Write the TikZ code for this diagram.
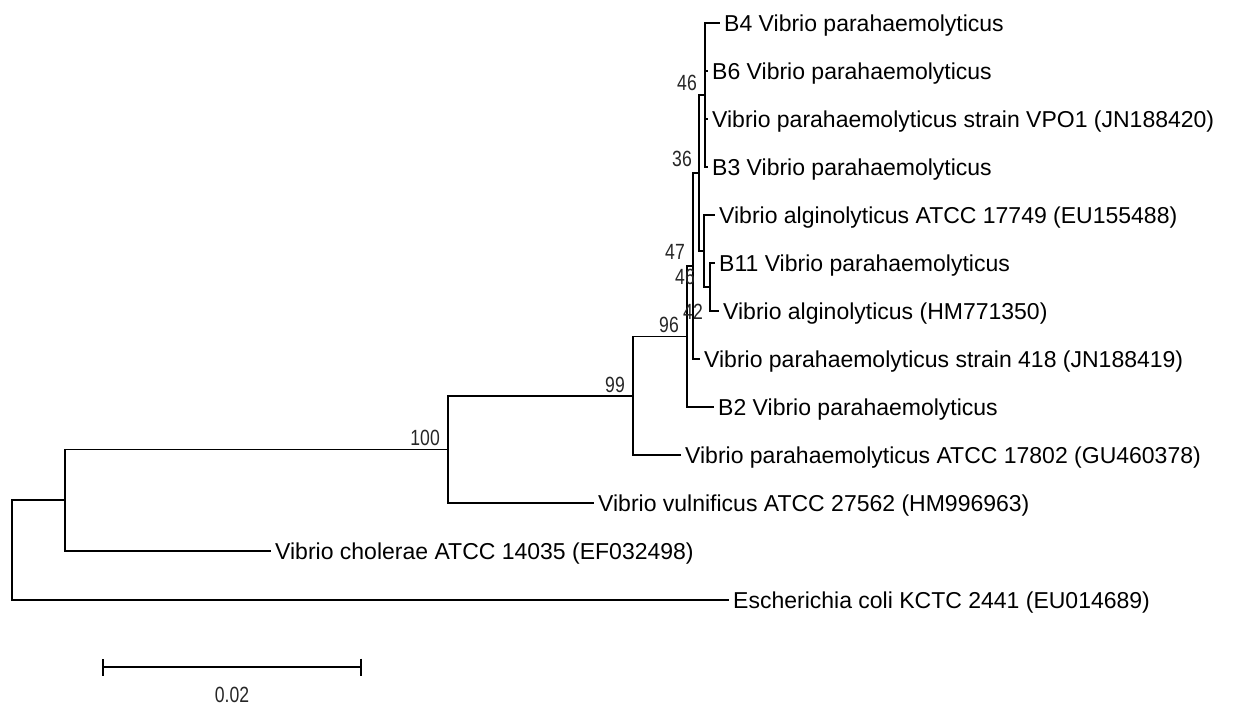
\documentclass[tikz,border=0pt]{standalone}
\usepackage{fontspec}
\setmainfont{Liberation Sans}
\usetikzlibrary{arrows.meta, positioning, calc}
\newcommand\bsfont{\fontsize{22}{22}\selectfont}
\newcommand\bsnum[1]{\scalebox{0.8}[1]{#1}}

\begin{document}
\begin{tikzpicture}[x=1pt, y=-1pt,
  leaf/.style={anchor=west, inner xsep=4pt, inner ysep=0pt, text height=16pt, text depth=0pt,
               font=\fontsize{23}{23}\selectfont},
  br/.style={line width=1.8pt, black},
  bsv/.style={anchor=south east, inner sep=0pt, font=\bsfont, black!85}
]
  \useasboundingbox (0,0) rectangle (1234,705);

  % leaves
  \node[leaf] (b4)    at (720,23)  {B4 Vibrio parahaemolyticus};
  \node[leaf] (b6)    at (708,71)  {B6 Vibrio parahaemolyticus};
  \node[leaf] (vpo1)  at (708,119) {Vibrio parahaemolyticus strain VPO1 (JN188420)};
  \node[leaf] (b3)    at (708,167) {B3 Vibrio parahaemolyticus};
  \node[leaf] (alg1)  at (715,215) {Vibrio alginolyticus ATCC 17749 (EU155488)};
  \node[leaf] (b11)   at (715,263) {B11 Vibrio parahaemolyticus};
  \node[leaf] (alg2)  at (719,311) {Vibrio alginolyticus (HM771350)};
  \node[leaf] (s418)  at (700,359) {Vibrio parahaemolyticus strain 418 (JN188419)};
  \node[leaf] (b2)    at (714,407) {B2 Vibrio parahaemolyticus};
  \node[leaf] (vpatc) at (681,455) {Vibrio parahaemolyticus ATCC 17802 (GU460378)};
  \node[leaf] (vvul)  at (594,503) {Vibrio vulnificus ATCC 27562 (HM996963)};
  \node[leaf] (vcho)  at (271,551) {Vibrio cholerae ATCC 14035 (EF032498)};
  \node[leaf] (ecoli) at (729,600) {Escherichia coli KCTC 2441 (EU014689)};

  % internal nodes
  \coordinate (nA)   at (705,95);
  \coordinate (nD)   at (710,287);
  \coordinate (nC)   at (704,251);
  \coordinate (nB)   at (699,173);
  \coordinate (nH)   at (693,266);
  \coordinate (nF)   at (687,336.5);
  \coordinate (n99)  at (633,396);
  \coordinate (n100) at (448,449.5);
  \coordinate (n65)  at (65,500);
  \coordinate (nR)   at (12,550);

  % branches
  \foreach \c in {b4,b6,vpo1,b3} \draw[br] (nA) |- (\c.west);
  \foreach \c in {b11,alg2} \draw[br] (nD) |- (\c.west);
  \draw[br] (nC) |- (alg1.west);
  \draw[br] (nC) |- (nD);
  \draw[br] (nB) |- (nA);
  \draw[br] (nB) |- (nC);
  \draw[br] (nH) |- (nB);
  \draw[br] (nH) |- (s418.west);
  \draw[br] (nF) |- (nH);
  \draw[br] (nF) |- (b2.west);
  \draw[br] (n99) |- (nF);
  \draw[br] (n99) |- (vpatc.west);
  \draw[br] (n100) |- (n99);
  \draw[br] (n100) |- (vvul.west);
  \draw[br] (n65) |- (n100);
  \draw[br] (n65) |- (vcho.west);
  \draw[br] (nR) |- (n65);
  \draw[br] (nR) |- (ecoli.west);

  % bootstrap values
  \node[bsv] (bs100) at (440,446) {\bsnum{100}};
  \node[bsv] (bs99)  at (625,393) {\bsnum{99}};
  \node[bsv] (bs96)  at (679,333) {\bsnum{96}};
  \node[bsv] (bs46a) at (697,91)  {\bsnum{46}};
  \node[bsv] (bs36)  at (692,167) {\bsnum{36}};
  \node[bsv] (bs47)  at (685,260) {\bsnum{47}};
  \node[bsv] (bs46b) at (695,285) {\bsnum{46}};
  \node[bsv] (bs42)  at (703,320) {\bsnum{42}};

  % scale bar
  \coordinate (sbl) at (102,667);
  \coordinate (sbr) at (362,667);
  \draw[br, {Bar[width=17pt]}-{Bar[width=17pt]}] (sbl) -- (sbr);
  \node[bsv, anchor=north] (sblab) at (232,687) {\bsnum{0.02}};
\end{tikzpicture}
\end{document}
